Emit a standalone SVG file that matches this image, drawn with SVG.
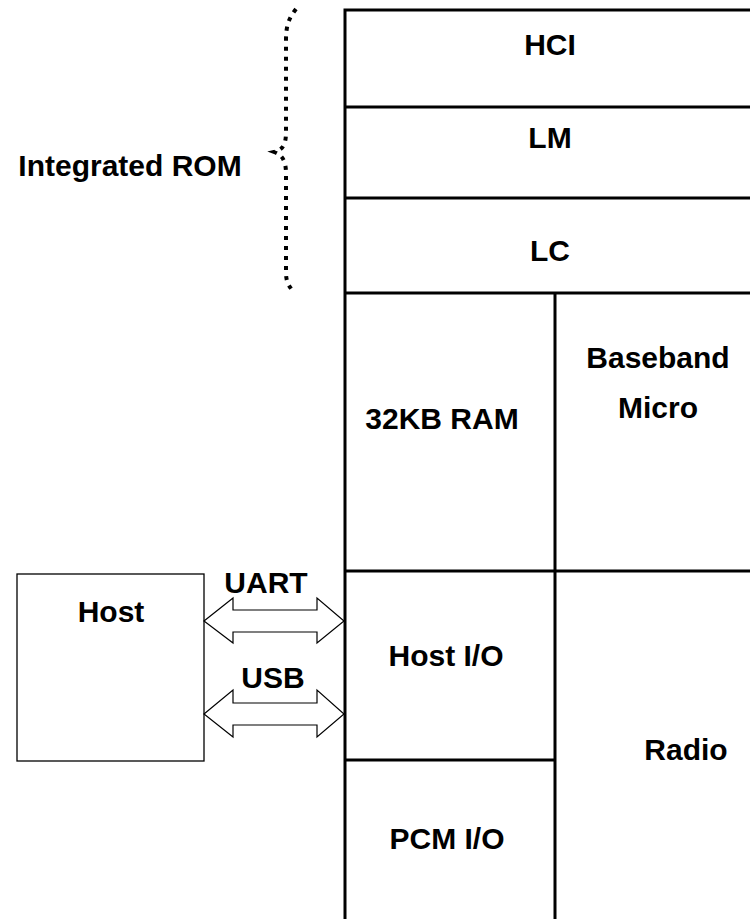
<svg xmlns="http://www.w3.org/2000/svg" width="750" height="919" viewBox="0 0 750 919">
<style>
.t{font-family:"Liberation Sans",Arial,sans-serif;font-weight:bold;font-size:30px;fill:#000;text-anchor:middle}
.ln{stroke:#000;stroke-width:3;fill:none}
.bx{stroke:#000;stroke-width:1.3;fill:#fff}
.ar{stroke:#000;stroke-width:1.2;fill:#fff;stroke-linejoin:miter}
.br{stroke:#000;stroke-width:4;fill:none;stroke-dasharray:4 6}
</style>
<rect width="750" height="919" fill="#fff"/>
<g id="stack" class="ln">
<path d="M345,919 V10 H752"/>
<path d="M345,107 H752 M345,198 H752 M345,293 H752 M555,292 V919 M345,571 H752 M345,760 H555"/>
</g>
<g id="hci"><text class="t" x="550" y="55">HCI</text></g>
<g id="lm"><text class="t" x="550" y="148">LM</text></g>
<g id="lc"><text class="t" x="550" y="261">LC</text></g>
<g id="ram"><text class="t" x="442" y="429">32KB RAM</text></g>
<g id="baseband"><text class="t" x="658" y="368">Baseband</text><text class="t" x="658" y="418">Micro</text></g>
<g id="hostio"><text class="t" x="446" y="666">Host I/O</text></g>
<g id="pcmio"><text class="t" x="447" y="849">PCM I/O</text></g>
<g id="radio"><text class="t" x="686" y="760">Radio</text></g>
<g id="rom">
<path class="br" d="M296,9 C289,18 286,25 286,40 L286,132 C286,146 282,150 274,152 C282,155 286,160 286,174 L286,272 C286,281 288,285 293,291"/>
<text class="t" x="130" y="176">Integrated ROM</text>
</g>
<g id="host"><rect class="bx" x="17" y="574" width="187" height="187"/><text class="t" x="111" y="622">Host</text></g>
<g id="connectors">
<polygon class="ar" points="204,621 233,598 233,610 317,610 317,598 344,621 317,643 317,632 233,632 233,643"/>
<polygon class="ar" points="204,714 233,690 233,703 317,703 317,690 344,714 317,737 317,725 233,725 233,737"/>
<text class="t" x="266" y="593">UART</text>
<text class="t" x="273" y="688">USB</text>
</g>
</svg>
